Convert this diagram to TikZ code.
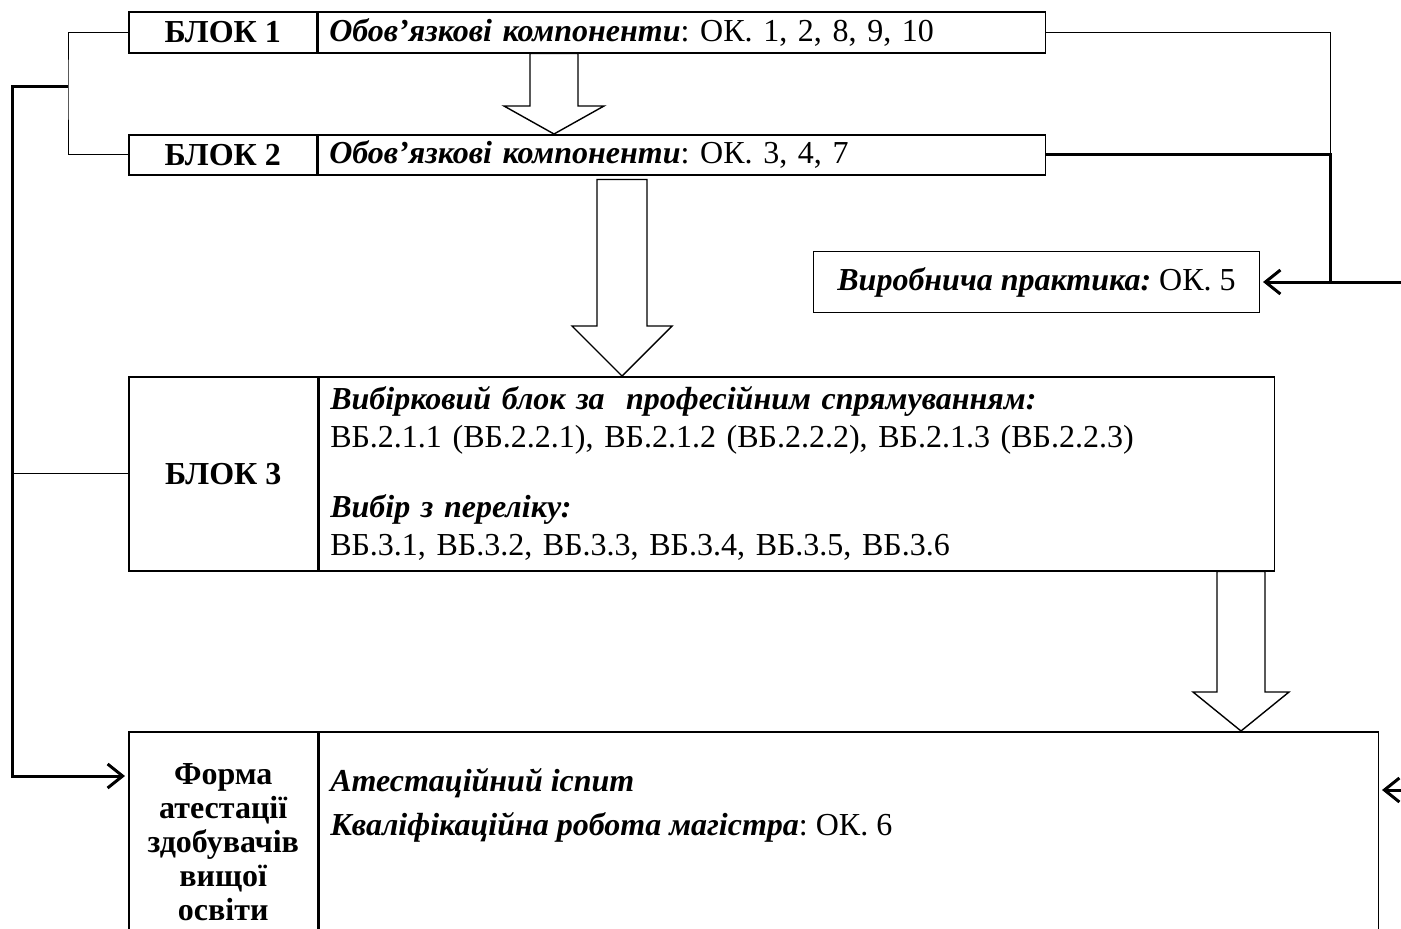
\documentclass[tikz,border=0pt]{standalone}
\usepackage{fontspec}
\setmainfont{Liberation Serif}
\usetikzlibrary{arrows.meta,calc}

\newcommand\diafont{\fontsize{32}{34}\selectfont\frenchspacing}
% fat hollow arrow: x, from, to, half shaft, half head, head length
\newcommand\fatarrow[6]{%
	\draw[fat] let \p1=(#2), \p2=(#3) in
	({(#1-#4)*1pt},\y1) -- ({(#1-#4)*1pt},{\y2+#6pt}) -- ({(#1-#5)*1pt},{\y2+#6pt})
	-- ({#1pt},\y2) -- ({(#1+#5)*1pt},{\y2+#6pt}) -- ({(#1+#4)*1pt},{\y2+#6pt})
	-- ({(#1+#4)*1pt},\y1) -- cycle;}

\begin{document}
\begin{tikzpicture}[x=1pt,y=-1pt,
	lcell/.style={draw, line width=1.5pt, inner sep=0pt, align=center, font=\diafont\bfseries},
	rcell/.style={draw, line width=1.5pt, inner xsep=11pt, inner ysep=0pt, align=left, font=\diafont},
	thinline/.style={line width=0.8pt},
	thickline/.style={line width=3pt},
	barb/.style={-{Straight Barb[length=15pt,width=24pt,line width=3pt]}, shorten >=3pt},
	fat/.style={line width=1.4pt, fill=white}]
	\useasboundingbox (0,0) rectangle (1401,929);
	\clip (0,0) rectangle (1401,929);
	
	%BLOCK 1
	\node[lcell, minimum width=188, minimum height=41, anchor=north west] (b1l) at (128,11) {БЛОК 1};
	\node[rcell, minimum height=41, text width=705, anchor=north west] (b1r) at (b1l.north east)
	{\textbf{\textit{Обов’язкові компоненти}}: ОК. 1, 2, 8, 9, 10};
	
	%BLOCK 2
	\node[lcell, minimum width=188, minimum height=40, anchor=north west] (b2l) at (128,134) {БЛОК 2};
	\node[rcell, minimum height=40, text width=705, anchor=north west] (b2r) at (b2l.north east)
	{\textbf{\textit{Обов’язкові компоненти}}: ОК. 3, 4, 7};
	
	%practice
	\node[draw, line width=1pt, minimum width=446, minimum height=61, anchor=north west, font=\diafont] (prac) at (813,251)
	{\textbf{\textit{Виробнича практика:}} ОК. 5};
	
	%BLOCK 3
	\node[lcell, minimum width=189, minimum height=194, anchor=north west] (b3l) at (128,376) {БЛОК 3};
	\node[rcell, minimum height=194, text width=933, anchor=north west] (b3r) at (b3l.north east)
	{\textbf{\textit{Вибірковий блок за\ \ професійним спрямуванням:}}\\[4pt]
		ВБ.2.1.1 (ВБ.2.2.1), ВБ.2.1.2 (ВБ.2.2.2), ВБ.2.1.3 (ВБ.2.2.3)\\[36pt]
		\textbf{\textit{Вибір з переліку:}}\\[4pt]
		ВБ.3.1, ВБ.3.2, ВБ.3.3, ВБ.3.4, ВБ.3.5, ВБ.3.6};
	
	%BLOCK 4
	\node[lcell, minimum width=189, minimum height=220, anchor=north west] (b4l) at (128,731)
	{Форма\\атестації\\здобувачів\\вищої\\освіти};
	\node[rcell, anchor=north west] (b4r) at (b4l.north east)
	{\parbox[c][220pt][t]{1037pt}{\raggedright\vspace*{37pt}
			\textbf{\textit{Атестаційний іспит}}\\[10pt]
			\textbf{\textit{Кваліфікаційна робота магістра}}: ОК. 6}};
	
	%fat arrows
	\fatarrow{554}{b1r.south}{b2r.north}{24}{50}{28}
	\fatarrow{622}{$(b2r.south)+(0,4)$}{b3r.north}{25}{50}{50}
	\fatarrow{1241}{b3r.south}{b4r.north}{24}{48}{39}
	
	%left lines
	\coordinate (ljoin) at (68,86);
	\coordinate (b4in) at ($(b4l.north west)+(0,45)$);
	\draw[thinline] (b1l.west) -| (ljoin) |- (b2l.west);
	\draw[thickline, barb] (ljoin) -- (12,86) |- (b4in);
	\draw[thinline] (b3l.west) -- ++(-116,0);
	
	%right lines
	\coordinate (rjoin) at (1330,153);
	\path (prac.east) ++(142,0) coordinate (pin);
	\coordinate (b4rin) at ($(b4r.north east)+(0,59)$);
	\coordinate (redge) at ($(b4rin)+(30,0)$);
	\draw[thinline] (b1r.east) -| (rjoin);
	\draw[thickline] (b2r.east) -| (rjoin |- prac.east);
	\draw[thickline, barb] (pin) -- (prac.east);
	\draw[thickline, barb] (redge) -- (b4rin);
\end{tikzpicture}
\end{document}
